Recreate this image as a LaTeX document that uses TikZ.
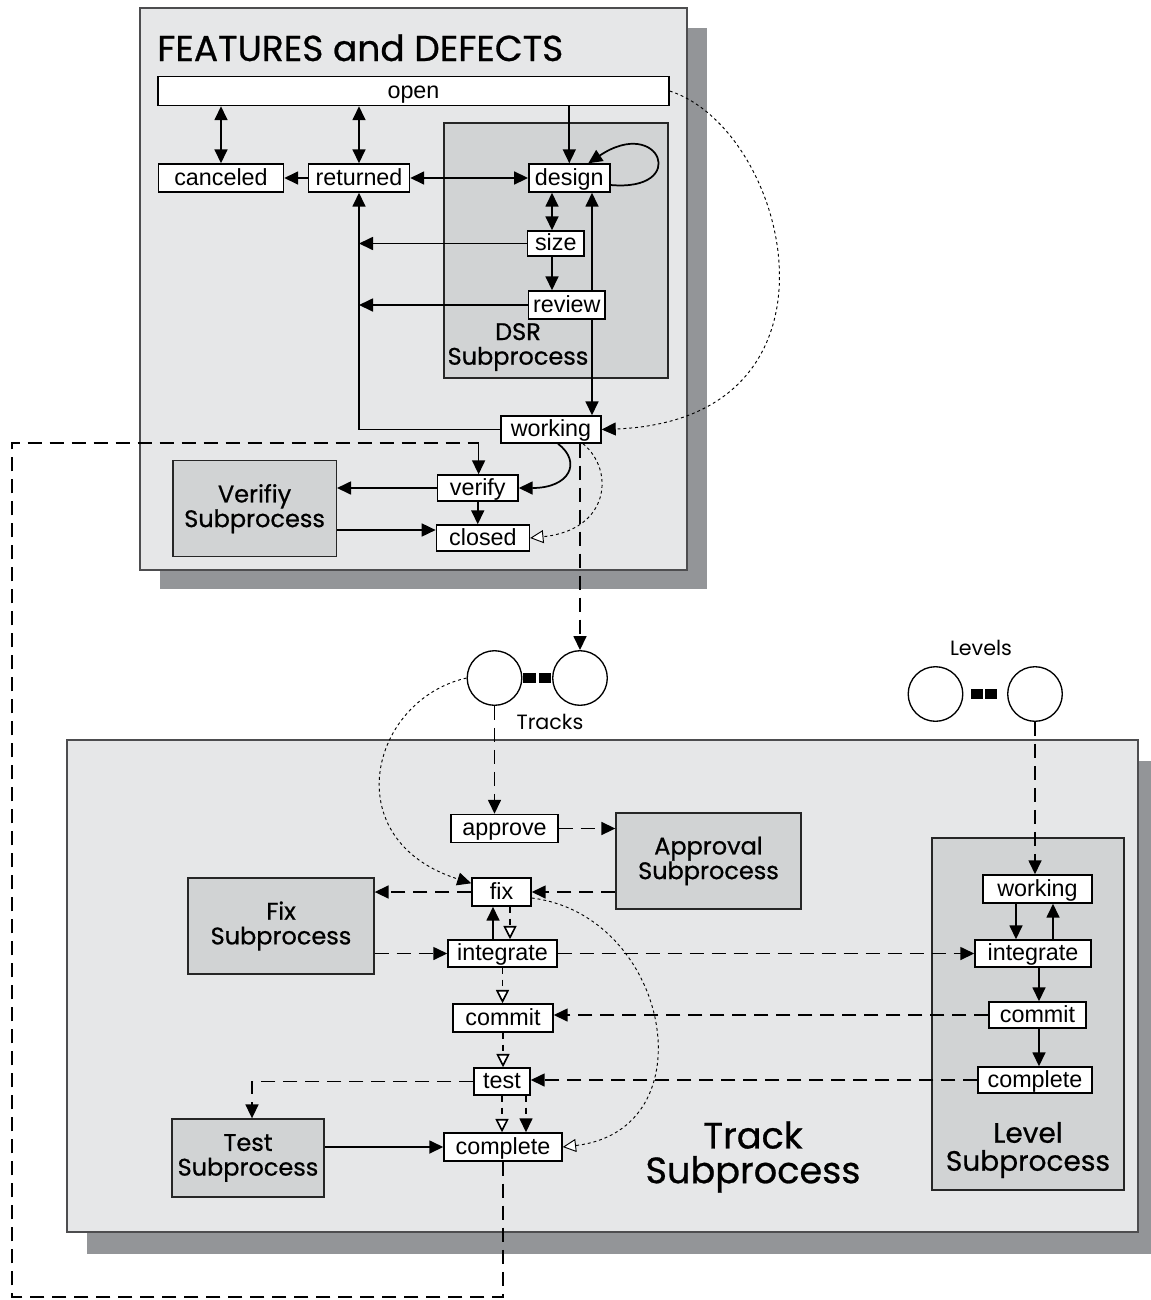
\documentclass[tikz,border=0pt]{standalone}
\usepackage{fontspec}
\setmainfont{Liberation Sans}
\newfontfamily\geofont{Poppins}
\newfontfamily\geoheavy[FakeBold=0.7]{Poppins}
\usetikzlibrary{arrows.meta,calc}
\definecolor{panelfill}{HTML}{E6E7E8}
\definecolor{subfill}{HTML}{D1D3D4}
\definecolor{shadowfill}{HTML}{939598}
\definecolor{paneledge}{HTML}{4D4D4F}
\newcommand{\boxfont}{\fontsize{17.5}{19}\selectfont}
\newcommand{\subfont}{\geoheavy\fontsize{18}{18.5}\selectfont}
\begin{document}
\begin{tikzpicture}[x=0.75pt,y=-0.75pt,
  >={Triangle[length=10.5pt,width=9.75pt]},
  state/.style={draw=black, fill=white, line width=1.1pt, inner sep=0pt,
    font=\boxfont, text height=13pt, text depth=1.8pt},
  wh/.style 2 args={minimum width=#1*0.75pt, minimum height=#2*0.75pt},
  subbox/.style={draw=black!85, fill=subfill, line width=1pt, inner sep=0pt,
    font=\subfont, align=center},
  sublabel/.style={font=\subfont, align=center, inner sep=0pt},
  token/.style={circle, draw=black, fill=white, line width=1pt,
    minimum size=54.6*0.75pt, inner sep=0pt},
  panel/.style={draw=paneledge, fill=panelfill, line width=0.8pt},
  flow/.style={line width=1.3pt},
  dflow/.style={line width=1.2pt, dash pattern=on 10.5pt off 6pt},
  sflow/.style={line width=1.2pt, dash pattern=on 5pt off 4pt},
  dotflow/.style={line width=0.7pt, dash pattern=on 2.2pt off 2.2pt},
  fa/.style={-{Triangle[length=10.5pt,width=9.75pt]}},
  oa/.style={-{Triangle[open,length=10pt,width=9.75pt,fill=white]}}
]
\useasboundingbox (0,0) rectangle (1150,1300);

% ---------- FEATURES and DEFECTS panel ----------
\fill[shadowfill] (160,28) rectangle (707,589);
\draw[panel] (140,8) rectangle (687,570);
\node[anchor=base west, inner sep=0pt, font=\geoheavy\fontsize{27}{30}\selectfont]
  (title) at (157,61) {FEATURES and DEFECTS};

% DSR subprocess container
\draw[subbox] (444,123) rectangle (668,378);
\node[sublabel] (dsrlabel) at (518,347) {DSR\\Subprocess};

\node[state, wh={511}{29}] (open) at (413.5,91) {open};
\node[state, wh={125}{28}] (canceled) at (221,178) {canceled};
\node[state, wh={101}{28}] (returned) at (359,178) {returned};
\node[state, wh={81}{28}] (design) at (569.3,178) {design};
\node[state, wh={56.5}{25}] (size) at (555.75,243.5) {size};
\node[state, wh={76.5}{28}] (review) at (566.8,305) {review};
\node[state, wh={100}{27}] (working) at (551,429.5) {working};
\node[state, wh={80.5}{26}] (verify) at (477.75,488) {verify};
\node[state, wh={93}{26}] (closed) at (482.9,538) {closed};
\node[subbox, wh={163.5}{96}] (verifsub) at (254.6,508.7) {Verifiy\\Subprocess};

\coordinate (rx) at (592,0);
\coordinate (sx) at (552,0);

\draw[flow,<->] (open.south -| canceled) -- (canceled.north);
\draw[flow,<->] (open.south -| returned) -- (returned.north);
\draw[flow,->] (open.south -| design) -- (design.north);
\draw[flow,->] ($(design.east)+(0,7)$) .. controls (690,192) and (660,115) .. ($(design.north)+(19,0)$);
\draw[flow,->] (returned.west) -- (canceled.east);
\draw[flow,<->] (returned.east) -- (design.west);
\draw[flow,<->] (design.south -| sx) -- (size.north -| sx);
\draw[flow,->] (size.south -| sx) -- (review.north -| sx);
\draw[flow,->] (review.north -| rx) -- (design.south -| rx);
\draw[flow,->] (review.south -| rx) -- (working.north -| rx);
\draw[flow,->] (size.west) -- (size.west -| returned);
\draw[flow,->] (review.west) -- (review.west -| returned);
\draw[flow,->] (working.west) -- (working.west -| returned) -- (returned.south);
\draw[dotflow,fa] (open.east) .. controls (790,130) and (860,420) .. (working.east);
\draw[flow,->] ($(working.south)+(7,0)$) .. controls (582,462) and (570,488) .. (verify.east);
\draw[dotflow,oa] ($(working.south)+(32,0)$) .. controls (615,470) and (610,530) .. (closed.east);
\draw[flow,->] (verify.west) -- (verify.west -| verifsub.east);
\draw[flow,->] (verify.south) -- (closed.north -| verify.south);
\coordinate (vc) at ($(closed.west)+(0,-8)$);
\draw[flow,->] (verifsub.east |- vc) -- (vc);

% ---------- Tracks tokens ----------
\node[token] (tc1) at (494.5,678) {};
\node[token] (tc2) at (580,678) {};
\fill (523,673) rectangle (536,683);
\fill (538.5,673) rectangle (551,683);
\node[inner sep=0pt, font=\geofont\fontsize{15.5}{18}\selectfont] (trackslbl) at (550,722) {Tracks};
\draw[dflow,->] (working.south -| tc2) -- (tc2.north);

% ---------- Levels tokens ----------
\node[token] (lc1) at (935.5,694) {};
\node[token] (lc2) at (1035,694) {};
\fill (971,689) rectangle (983,699);
\fill (985,689) rectangle (997,699);
\node[inner sep=0pt, font=\geofont\fontsize{15.5}{18}\selectfont] (levelslbl) at (981,648) {Levels};

% ---------- Track Subprocess panel ----------
\fill[shadowfill] (87,761) rectangle (1158,1254);
\draw[panel] (67,740) rectangle (1138,1232);
\draw[subbox] (932,838) rectangle (1124,1190);
\node[sublabel, font=\geoheavy\fontsize{21}{21}\selectfont] (levellabel) at (1028,1150) {Level\\Subprocess};
\node[sublabel, font=\geoheavy\fontsize{27.5}{26}\selectfont] (tracklabel) at (753,1157) {Track\\Subprocess};

\node[state, wh={107}{28}] (approve) at (504.5,828.5) {approve};
\node[subbox, wh={185}{96}] (approvalsub) at (708.5,861) {Approval\\Subprocess};
\node[state, wh={59}{28}] (fix) at (501.5,892) {fix};
\node[subbox, wh={186}{96}] (fixsub) at (281,926) {Fix\\Subprocess};
\node[state, wh={109}{27}] (integrate) at (502.5,953.5) {integrate};
\node[state, wh={100}{28}] (commit) at (503,1018) {commit};
\node[state, wh={56}{27}] (test) at (502,1081.5) {test};
\node[state, wh={118}{28}] (complete) at (503,1147) {complete};
\node[subbox, wh={152}{78}] (testsub) at (248,1158) {Test\\Subprocess};

\node[state, wh={109}{28}] (lworking) at (1037.5,889) {working};
\node[state, wh={116}{27}] (lintegrate) at (1033,953.5) {integrate};
\node[state, wh={97}{26}] (lcommit) at (1037.5,1015) {commit};
\node[state, wh={114}{26}] (lcomplete) at (1035,1080) {complete};

\draw[dflow,->] (tc1.south) -- (tc1.south |- approve.north);
\draw[dflow,->] (approve.east) -- (approve.east -| approvalsub.west);
\draw[dflow,->] (fix.east -| approvalsub.west) -- (fix.east);
\draw[dflow,->] (fix.west) -- (fix.west -| fixsub.east);
\draw[dotflow,fa] (tc1.west) .. controls (370,700) and (335,840) .. ($(fix.north west)+(0,6)$);
\coordinate (ifx) at ($(integrate.north)+(-9.5,0)$);
\draw[flow,->] (ifx) -- (ifx |- fix.south);
\coordinate (fix2) at ($(fix.south)+(8.5,0)$);
\draw[sflow,oa] (fix2) -- (fix2 |- integrate.north);
\draw[dflow,->] (fixsub.east |- integrate.west) -- (integrate.west);
\draw[dflow,->] (integrate.east) -- (integrate.east -| lintegrate.west);
\draw[sflow,oa] (integrate.south) -- (integrate.south |- commit.north);
\draw[dflow,->] (lcommit.west) -- (lcommit.west -| commit.east);
\draw[sflow,oa] (commit.south) -- (commit.south |- test.north);
\draw[dflow,->] (lcomplete.west) -- (lcomplete.west -| test.east);
\coordinate (tsx) at (252,0);
\draw[dflow,->] (test.west) -- (test.west -| tsx) -- (testsub.north -| tsx);
\draw[sflow,oa] (test.south) -- (test.south |- complete.north);
\coordinate (tcx) at ($(test.south)+(24,0)$);
\draw[sflow,->] (tcx) -- (tcx |- complete.north);
\draw[flow,->] (testsub.east |- complete.west) -- (complete.west);
\draw[dotflow,oa] ($(fix.east)+(0,6)$) .. controls (670,915) and (710,1130) .. (complete.east);

\draw[dflow,->] (lc2.south) -- (lc2.south |- lworking.north);
\coordinate (lw1) at ($(lworking.south)+(-21.5,0)$);
\draw[flow,->] (lw1) -- (lw1 |- lintegrate.north);
\coordinate (lw2) at ($(lintegrate.north)+(20,0)$);
\draw[flow,->] (lw2) -- (lw2 |- lworking.south);
\coordinate (lx) at (1039,0);
\draw[flow,->] (lintegrate.south -| lx) -- (lcommit.north -| lx);
\draw[flow,->] (lcommit.south -| lx) -- (lcomplete.north -| lx);

% ---------- feedback loop from complete back to verify ----------
\coordinate (loopbl) at (12,1297);
\coordinate (looptl) at (12,443);
\coordinate (looptr) at (478.6,443);
\draw[dflow] (complete.south) -- (complete.south |- loopbl) -- (loopbl) -- (looptl) -- (looptr);
\draw[flow,->] (looptr) -- (verify.north -| looptr);
\end{tikzpicture}
\end{document}
